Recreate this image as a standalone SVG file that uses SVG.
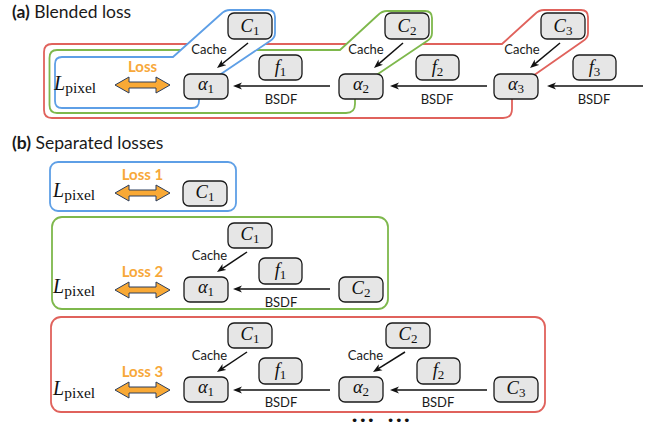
<svg xmlns="http://www.w3.org/2000/svg" width="657" height="427" viewBox="0 0 657 427">
<style>
.t{font-family:Lato,"Open Sans",sans-serif;fill:#1a1a1a}
.title{font-size:17.5px}
.lbl{font-family:Lato,"Open Sans",sans-serif;font-size:13px;fill:#1a1a1a;text-anchor:middle}
.loss{font-family:Lato,"Open Sans",sans-serif;font-size:15px;font-weight:bold;fill:#f7a83a;text-anchor:middle}
.m{font-family:"Liberation Serif","Times New Roman",serif;font-size:18.5px;fill:#111;text-anchor:middle}
.lp{font-family:"Liberation Serif","Times New Roman",serif;font-size:20px;fill:#111}
.box{fill:#e6e6e6;stroke:#1a1a1a;stroke-width:1.3}
.arr{stroke:#111;stroke-width:1.5;fill:none;marker-end:url(#ah)}
.ol{fill:#fff;stroke-width:1.8;stroke-linejoin:round}
.dbl{fill:#f9a935;stroke:#2b3d5c;stroke-width:1}
</style>
<defs>
<marker id="ah" markerUnits="userSpaceOnUse" markerWidth="10" markerHeight="8" refX="5" refY="4" orient="auto">
<path d="M0,0.5 L9,4 L0,7.5 L2.5,4 Z" fill="#111"/>
</marker>
<path id="dblarrow" class="dbl" d="M0,0 L14,-8 L14,-3 L41,-3 L41,-8 L55,0 L41,8 L41,3 L14,3 L14,8 Z"/>
</defs>

<!-- titles -->
<text class="t title" x="12" y="18"><tspan font-weight="bold">(a)</tspan> Blended loss</text>
<text class="t title" x="12" y="149"><tspan font-weight="bold">(b)</tspan> Separated losses</text>

<!-- (a) outlines -->
<g id="outline-red">
<path class="ol" stroke="#e0625c" d="M512,95 L512,109 Q512,118 503,118 L52,118 Q44,118 44,110 L44,52 Q44,44 52,44 L502,44 L535,14 Q539,10 544,10 L581,10 Q588,10 588,17 L588,33 Q588,38 583,41 L530,78 Z"/>
</g>
<g id="outline-green">
<path class="ol" stroke="#7eb84c" d="M355,95 L355,104 Q355,113 346,113 L57,113 Q49.5,113 49.5,105 L49.5,58 Q49.5,50 57,50 L340,50 L378,15 Q382,11 387,11 L425,11 Q432,11 432,18 L432,33 Q432,38 427,41 L372,78 Z"/>
</g>
<g id="outline-blue">
<path class="ol" stroke="#5e9fe6" d="M199,95 L199,101 Q199,108 192,108 L62,108 Q55,108 55,101 L55,64 Q55,57 62,57 L173,57 L221,14 Q225,10 230,10 L268,10 Q275,10 275,17 L275,33 Q275,38 270,41 L215,78 Z"/>
</g>

<!-- (b) frames -->
<g id="frame-b1"><rect x="50" y="162" width="186" height="49" rx="8" fill="none" stroke="#5e9fe6" stroke-width="1.8"/></g>
<g id="frame-b2"><rect x="52" y="217" width="336" height="92" rx="10" fill="none" stroke="#7eb84c" stroke-width="1.8"/></g>
<g id="frame-b3"><rect x="51" y="317" width="494" height="95" rx="10" fill="none" stroke="#e0625c" stroke-width="1.8"/></g>

<!-- connectors -->
<g id="connectors">
<line class="arr" x1="248" y1="43" x2="220.1" y2="65.5"/>
<line class="arr" x1="403" y1="43" x2="377" y2="65.4"/>
<line class="arr" x1="560" y1="43" x2="533.1" y2="65.4"/>
<line class="arr" x1="330" y1="86" x2="237" y2="86"/>
<line class="arr" x1="487" y1="86" x2="394" y2="86"/>
<line class="arr" x1="643" y1="86" x2="551" y2="86"/>
<line class="arr" x1="247" y1="252" x2="220.3" y2="269.8"/>
<line class="arr" x1="330" y1="289" x2="237" y2="289"/>
<line class="arr" x1="247" y1="352" x2="220.3" y2="369.8"/>
<line class="arr" x1="405" y1="352" x2="376.4" y2="369.9"/>
<line class="arr" x1="330" y1="390" x2="237" y2="390"/>
<line class="arr" x1="487" y1="390" x2="394" y2="390"/>
<use href="#dblarrow" x="115" y="85"/>
<use href="#dblarrow" x="115" y="193"/>
<use href="#dblarrow" x="115" y="290"/>
<use href="#dblarrow" x="115" y="390"/>
</g>

<!-- labels -->
<g id="labels">
<text class="lbl" x="209" y="54">Cache</text>
<text class="lbl" x="366" y="54">Cache</text>
<text class="lbl" x="522" y="54">Cache</text>
<text class="lbl" x="281" y="104">BSDF</text>
<text class="lbl" x="437" y="104">BSDF</text>
<text class="lbl" x="594" y="104">BSDF</text>
<text class="lbl" x="209.5" y="260">Cache</text>
<text class="lbl" x="281" y="307">BSDF</text>
<text class="lbl" x="209.5" y="360">Cache</text>
<text class="lbl" x="365.5" y="360">Cache</text>
<text class="lbl" x="281" y="407">BSDF</text>
<text class="lbl" x="438" y="407">BSDF</text>
<text class="loss" x="142.5" y="72">Loss</text>
<text class="loss" x="142.5" y="180">Loss 1</text>
<text class="loss" x="142.5" y="277">Loss 2</text>
<text class="loss" x="142.5" y="377">Loss 3</text>
<text class="lp" x="54" y="90"><tspan font-style="italic">L</tspan><tspan font-size="15.5" dy="3">pixel</tspan></text>
<text class="lp" x="53" y="197"><tspan font-style="italic">L</tspan><tspan font-size="15.5" dy="3">pixel</tspan></text>
<text class="lp" x="53" y="293"><tspan font-style="italic">L</tspan><tspan font-size="15.5" dy="3">pixel</tspan></text>
<text class="lp" x="53" y="395"><tspan font-style="italic">L</tspan><tspan font-size="15.5" dy="3">pixel</tspan></text>
<text y="425" font-family="'DejaVu Sans',sans-serif" font-size="13" letter-spacing="0.5" text-anchor="middle" fill="#111"><tspan x="363">•••</tspan><tspan x="399">•••</tspan></text>
</g>

<!-- (a) nodes -->
<g id="a-C1"><rect class="box" x="228" y="13" width="44" height="26" rx="6"/><text class="m" x="250" y="32"><tspan font-style="italic">C</tspan><tspan font-size="13" dy="3">1</tspan></text></g>
<g id="a-C2"><rect class="box" x="385" y="13" width="44" height="26" rx="6"/><text class="m" x="407" y="32"><tspan font-style="italic">C</tspan><tspan font-size="13" dy="3">2</tspan></text></g>
<g id="a-C3"><rect class="box" x="541" y="13" width="44" height="26" rx="6"/><text class="m" x="563" y="32"><tspan font-style="italic">C</tspan><tspan font-size="13" dy="3">3</tspan></text></g>
<g id="a-f1"><rect class="box" x="259" y="55" width="43" height="25" rx="6"/><text class="m" x="280.5" y="73"><tspan font-style="italic">f</tspan><tspan font-size="13" dy="3">1</tspan></text></g>
<g id="a-f2"><rect class="box" x="416" y="55" width="43" height="25" rx="6"/><text class="m" x="437.5" y="73"><tspan font-style="italic">f</tspan><tspan font-size="13" dy="3">2</tspan></text></g>
<g id="a-f3"><rect class="box" x="573" y="55" width="43" height="25" rx="6"/><text class="m" x="594.5" y="73"><tspan font-style="italic">f</tspan><tspan font-size="13" dy="3">3</tspan></text></g>
<g id="a-alpha1"><rect class="box" x="184" y="74" width="44" height="25" rx="6"/><text class="m" x="206" y="90"><tspan font-style="italic">α</tspan><tspan font-size="13" dy="3">1</tspan></text></g>
<g id="a-alpha2"><rect class="box" x="339" y="74" width="44" height="25" rx="6"/><text class="m" x="361" y="90"><tspan font-style="italic">α</tspan><tspan font-size="13" dy="3">2</tspan></text></g>
<g id="a-alpha3"><rect class="box" x="494" y="74" width="44" height="25" rx="6"/><text class="m" x="516" y="90"><tspan font-style="italic">α</tspan><tspan font-size="13" dy="3">3</tspan></text></g>

<!-- (b) nodes -->
<g id="b1-C1"><rect class="box" x="183" y="181" width="44" height="25" rx="6"/><text class="m" x="205" y="198"><tspan font-style="italic">C</tspan><tspan font-size="13" dy="3">1</tspan></text></g>

<g id="b2-C1"><rect class="box" x="228" y="223" width="44" height="25" rx="6"/><text class="m" x="250" y="240"><tspan font-style="italic">C</tspan><tspan font-size="13" dy="3">1</tspan></text></g>
<g id="b2-f1"><rect class="box" x="259" y="258" width="43" height="26" rx="6"/><text class="m" x="280.5" y="276"><tspan font-style="italic">f</tspan><tspan font-size="13" dy="3">1</tspan></text></g>
<g id="b2-alpha1"><rect class="box" x="184" y="277" width="44" height="25" rx="6"/><text class="m" x="206" y="293"><tspan font-style="italic">α</tspan><tspan font-size="13" dy="3">1</tspan></text></g>
<g id="b2-C2"><rect class="box" x="339" y="277" width="44" height="25" rx="6"/><text class="m" x="361" y="294"><tspan font-style="italic">C</tspan><tspan font-size="13" dy="3">2</tspan></text></g>

<g id="b3-C1"><rect class="box" x="228" y="323" width="44" height="25" rx="6"/><text class="m" x="250" y="340"><tspan font-style="italic">C</tspan><tspan font-size="13" dy="3">1</tspan></text></g>
<g id="b3-C2"><rect class="box" x="386" y="323" width="44" height="25" rx="6"/><text class="m" x="408" y="340"><tspan font-style="italic">C</tspan><tspan font-size="13" dy="3">2</tspan></text></g>
<g id="b3-f1"><rect class="box" x="259" y="358" width="43" height="26" rx="6"/><text class="m" x="280.5" y="376"><tspan font-style="italic">f</tspan><tspan font-size="13" dy="3">1</tspan></text></g>
<g id="b3-f2"><rect class="box" x="417" y="358" width="43" height="26" rx="6"/><text class="m" x="438.5" y="376"><tspan font-style="italic">f</tspan><tspan font-size="13" dy="3">2</tspan></text></g>
<g id="b3-alpha1"><rect class="box" x="184" y="377" width="44" height="25" rx="6"/><text class="m" x="206" y="393"><tspan font-style="italic">α</tspan><tspan font-size="13" dy="3">1</tspan></text></g>
<g id="b3-alpha2"><rect class="box" x="339" y="377" width="44" height="25" rx="6"/><text class="m" x="361" y="393"><tspan font-style="italic">α</tspan><tspan font-size="13" dy="3">2</tspan></text></g>
<g id="b3-C3"><rect class="box" x="494" y="377" width="44" height="25" rx="6"/><text class="m" x="516" y="394"><tspan font-style="italic">C</tspan><tspan font-size="13" dy="3">3</tspan></text></g>
</svg>
